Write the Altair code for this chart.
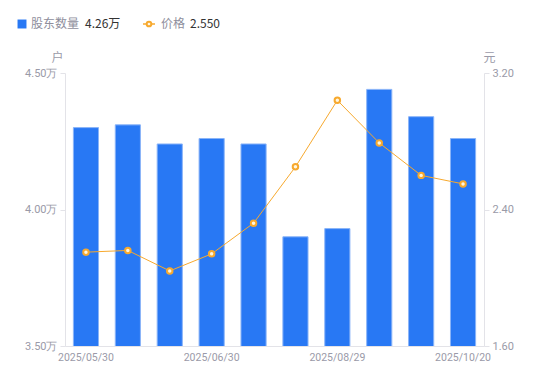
import altair as alt
import pandas as pd

dates = ["2025/05/30", "2025/06/10", "2025/06/20", "2025/06/30", "2025/07/31",
         "2025/08/20", "2025/08/29", "2025/09/10", "2025/09/30", "2025/10/20"]
holders = [4.30, 4.31, 4.24, 4.26, 4.24, 3.90, 3.93, 4.44, 4.34, 4.26]  # 万户
price = [2.15, 2.16, 2.04, 2.14, 2.32, 2.65, 3.04, 2.79, 2.60, 2.55]
shown_dates = ["2025/05/30", "2025/06/30", "2025/08/29", "2025/10/20"]

df = pd.DataFrame({"date": dates, "holders": holders, "price": price})

LABEL = "#9a9aa8"
AXIS = "#e3e3e8"
BLUE = "#2878f4"
ORANGE = "#f7a92e"

xenc = alt.X("date:N", sort=dates,
             scale=alt.Scale(paddingInner=0.4, paddingOuter=0.2),
             axis=alt.Axis(title=None, values=shown_dates, labelAngle=0,
                           labelColor=LABEL, labelFontSize=10.5, labelPadding=6,
                           domainColor=AXIS, ticks=False, labelFont="Roboto"))

bars = alt.Chart(df).mark_bar(color=BLUE, stroke="#8ab4f8", strokeWidth=1, clip=True).encode(
    x=xenc,
    y=alt.Y("holders:Q", scale=alt.Scale(domain=[3.5, 4.5], zero=False, nice=False),
            axis=alt.Axis(title="户", titleAngle=0, titleX=-8, titleY=-9,
                          titleColor=LABEL, titleFontWeight="normal", titleFontSize=12,
                          values=[3.5, 4.0, 4.5],
                          labelExpr="format(datum.value, '.2f') + '万'",
                          labelColor=LABEL, labelFontSize=11, labelFont="Roboto",
                          grid=False, domainColor=AXIS, tickColor=AXIS, tickSize=5,
                          labelPadding=3)),
)

line = alt.Chart(df).mark_line(
    color=ORANGE, strokeWidth=1,
    point=alt.OverlayMarkDef(filled=True, fill="#fff6e0", stroke=ORANGE, strokeWidth=2,
                             size=30, opacity=1),
).encode(
    x=alt.X("date:N", sort=dates),
    y=alt.Y("price:Q", scale=alt.Scale(domain=[1.6, 3.2], zero=False, nice=False),
            axis=alt.Axis(title="元", titleAngle=0, titleX=5, titleY=-9,
                          titleColor=LABEL, titleFontWeight="normal", titleFontSize=12,
                          values=[1.6, 2.4, 3.2], format=".2f",
                          labelColor=LABEL, labelFontSize=11, labelFont="Roboto",
                          grid=False, domainColor=AXIS, tickColor=AXIS, tickSize=5,
                          labelPadding=3, orient="right")),
)

# legend
leg_df = pd.DataFrame({
    "name1": ["股东数量"], "val1": [f"{holders[-1]:.2f}万"],
    "name2": ["价格"], "val2": [f"{price[-1]:.3f}"],
})
FONT = "Noto Sans CJK SC"
FS = 12
leg_sq = alt.Chart(leg_df).mark_square(color=BLUE, size=80, opacity=1).encode(
    x=alt.value(-43), y=alt.value(-49))
leg_t1 = alt.Chart(leg_df).mark_text(align="left", baseline="middle", fontSize=FS,
                                      color="#8e8e9c", font=FONT).encode(
    x=alt.value(-34), y=alt.value(-49), text="name1:N")
leg_v1 = alt.Chart(leg_df).mark_text(align="left", baseline="middle", fontSize=FS,
                                      color="#333333", font=FONT).encode(
    x=alt.value(20), y=alt.value(-49), text="val1:N")
leg_ln = alt.Chart(leg_df).mark_rule(color=ORANGE, strokeWidth=1.5).encode(
    x=alt.value(78), x2=alt.value(90), y=alt.value(-49))
leg_pt = alt.Chart(leg_df).mark_point(filled=True, fill="#fff6e0", stroke=ORANGE,
                                      strokeWidth=2, size=22, opacity=1).encode(
    x=alt.value(84), y=alt.value(-49))
leg_t2 = alt.Chart(leg_df).mark_text(align="left", baseline="middle", fontSize=FS,
                                      color="#8e8e9c", font=FONT).encode(
    x=alt.value(96), y=alt.value(-49), text="name2:N")
leg_v2 = alt.Chart(leg_df).mark_text(align="left", baseline="middle", fontSize=FS,
                                      color="#333333", font=FONT).encode(
    x=alt.value(125), y=alt.value(-49), text="val2:N")

chart = alt.layer(
    bars, line,
    leg_sq, leg_t1, leg_v1, leg_ln, leg_pt, leg_t2, leg_v2,
).resolve_scale(y="independent").properties(
    width=419, height=273,
    autosize=alt.AutoSizeParams(type="none"),
    padding={"left": 57, "top": 65, "right": 58, "bottom": 27},
).configure_view(stroke=None).configure_axis(titleFont=FONT)

chart.save("out.html", embed_options={"renderer": "svg", "actions": False})
